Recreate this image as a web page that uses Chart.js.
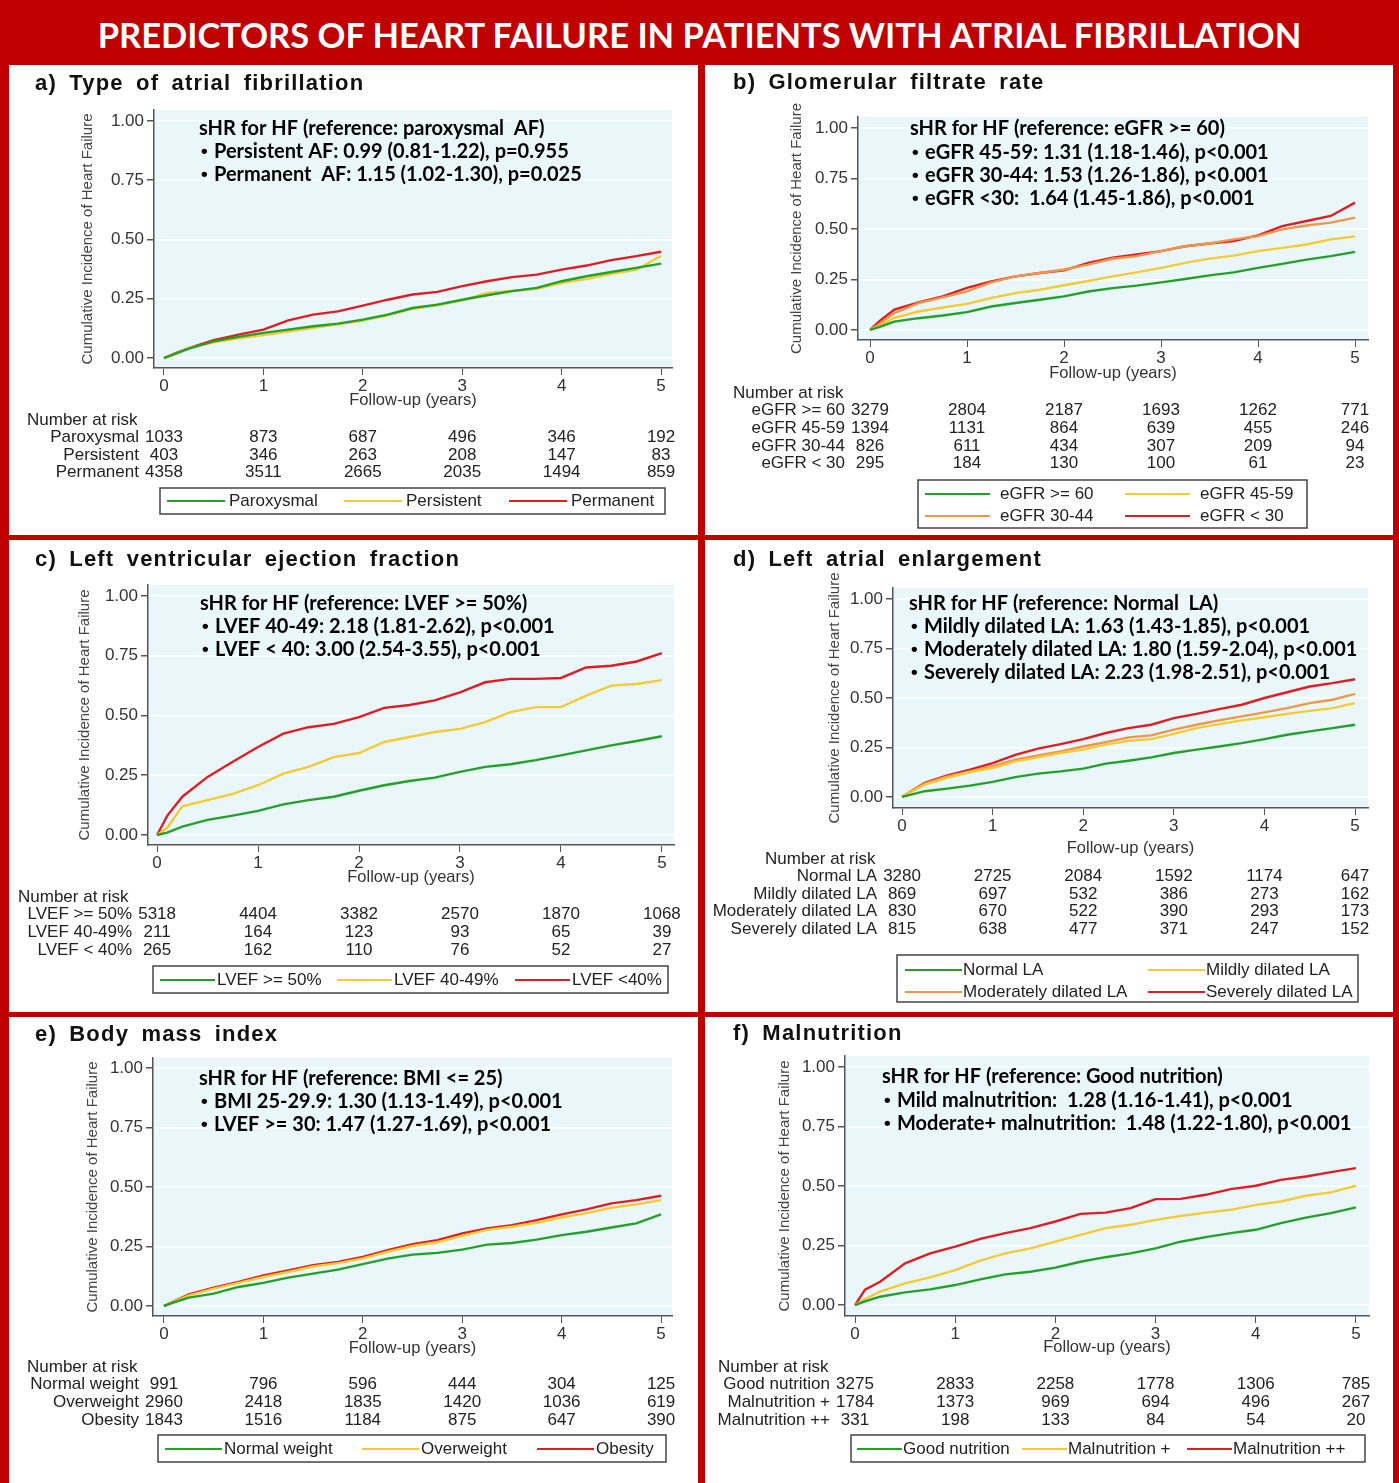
<!DOCTYPE html>
<html>
<head>
<meta charset="utf-8">
<script src="https://cdn.jsdelivr.net/npm/chart.js@4.4.1/dist/chart.umd.min.js"></script>
<style>
  html, body { margin: 0; padding: 0; }
  body { width: 1399px; height: 1483px; background: #c00000; position: relative; overflow: hidden; }
  #title { position: absolute; left: 0; top: 2px; width: 1399px; height: 62px; color: #fff;
           font: bold 34.5px Lato, sans-serif; text-align: center; line-height: 66px; }
  .panel { position: absolute; background: #fff; }
  .panel canvas { display: block; }
</style>
</head>
<body>
<div id="title">PREDICTORS OF HEART FAILURE IN PATIENTS WITH ATRIAL FIBRILLATION</div>
<div class="panel" style="left:9px;top:65px;width:689px;height:470px"><canvas id="panelA" width="689" height="470"></canvas></div>
<div class="panel" style="left:705px;top:65px;width:688px;height:470px"><canvas id="panelB" width="688" height="470"></canvas></div>
<div class="panel" style="left:9px;top:540px;width:689px;height:472px"><canvas id="panelC" width="689" height="472"></canvas></div>
<div class="panel" style="left:705px;top:540px;width:688px;height:472px"><canvas id="panelD" width="688" height="472"></canvas></div>
<div class="panel" style="left:9px;top:1017px;width:689px;height:466px"><canvas id="panelE" width="689" height="466"></canvas></div>
<div class="panel" style="left:705px;top:1017px;width:688px;height:466px"><canvas id="panelF" width="688" height="466"></canvas></div>

<script>
// shared axes
const followUp = [0, 0.1, 0.25, 0.5, 0.75, 1, 1.25, 1.5, 1.75, 2, 2.25, 2.5, 2.75, 3, 3.25, 3.5, 3.75, 4, 4.25, 4.5, 4.75, 5];
const yearTicks = [0, 1, 2, 3, 4, 5];
const incidenceTicks = [0, 0.25, 0.5, 0.75, 1];

// a) type of AF
const afGroups = ['Paroxysmal', 'Persistent', 'Permanent'];
const afParoxysmal = [0,0.015,0.04,0.07,0.089,0.106,0.12,0.134,0.145,0.162,0.183,0.211,0.225,0.246,0.265,0.282,0.296,0.324,0.345,0.363,0.38,0.398];
const afPersistent = [0,0.015,0.042,0.066,0.083,0.097,0.112,0.127,0.142,0.158,0.18,0.208,0.222,0.243,0.275,0.283,0.292,0.316,0.333,0.355,0.372,0.43];
const afPermanent = [0,0.018,0.042,0.075,0.099,0.12,0.159,0.183,0.197,0.221,0.246,0.268,0.279,0.303,0.324,0.341,0.352,0.373,0.39,0.413,0.43,0.448];
const afRisk = [[1033,873,687,496,346,192],[403,346,263,208,147,83],[4358,3511,2665,2035,1494,859]];
const afNote = ['sHR for HF (reference: paroxysmal  AF)', '\u2022 Persistent AF: 0.99 (0.81-1.22), p=0.955', '\u2022 Permanent  AF: 1.15 (1.02-1.30), p=0.025'];

// b) eGFR
const egfrGroups = ['eGFR >= 60', 'eGFR 45-59', 'eGFR 30-44', 'eGFR < 30'];
const egfr60 = [0,0.015,0.041,0.058,0.071,0.088,0.116,0.133,0.149,0.166,0.19,0.207,0.219,0.235,0.252,0.27,0.285,0.307,0.327,0.348,0.365,0.386];
const egfr4559 = [0,0.02,0.06,0.091,0.111,0.129,0.158,0.182,0.199,0.221,0.242,0.265,0.285,0.307,0.332,0.353,0.368,0.39,0.406,0.423,0.448,0.463];
const egfr3044 = [0,0.03,0.083,0.133,0.161,0.191,0.235,0.265,0.282,0.299,0.323,0.352,0.365,0.39,0.414,0.428,0.448,0.464,0.498,0.517,0.531,0.556];
const egfrBelow30 = [0,0.045,0.1,0.136,0.166,0.208,0.24,0.265,0.282,0.295,0.332,0.357,0.373,0.39,0.414,0.428,0.44,0.468,0.514,0.539,0.564,0.63];
const egfrRisk = [[3279,2804,2187,1693,1262,771],[1394,1131,864,639,455,246],[826,611,434,307,209,94],[295,184,130,100,61,23]];
const egfrNote = ['sHR for HF (reference: eGFR >= 60)', '\u2022 eGFR 45-59: 1.31 (1.18-1.46), p<0.001', '\u2022 eGFR 30-44: 1.53 (1.26-1.86), p<0.001', '\u2022 eGFR <30:  1.64 (1.45-1.86), p<0.001'];

// c) LVEF
const lvefGroups = ['LVEF >= 50%', 'LVEF 40-49%', 'LVEF < 40%'];
const lvefLegend = ['LVEF >= 50%', 'LVEF 40-49%', 'LVEF <40%'];
const lvef50 = [0,0.01,0.035,0.063,0.081,0.101,0.128,0.146,0.16,0.185,0.208,0.226,0.24,0.264,0.285,0.296,0.313,0.333,0.354,0.375,0.393,0.413];
const lvef4049 = [0,0.03,0.12,0.146,0.172,0.208,0.257,0.285,0.326,0.343,0.389,0.41,0.431,0.444,0.472,0.514,0.535,0.535,0.583,0.625,0.632,0.648];
const lvefBelow40 = [0,0.08,0.16,0.243,0.306,0.368,0.424,0.451,0.465,0.493,0.532,0.544,0.563,0.597,0.639,0.653,0.653,0.657,0.701,0.708,0.726,0.761];
const lvefRisk = [[5318,4404,3382,2570,1870,1068],[211,164,123,93,65,39],[265,162,110,76,52,27]];
const lvefNote = ['sHR for HF (reference: LVEF >= 50%)', '\u2022 LVEF 40-49: 2.18 (1.81-2.62), p<0.001', '\u2022 LVEF < 40: 3.00 (2.54-3.55), p<0.001'];

// d) left atrium
const laGroups = ['Normal LA', 'Mildly dilated LA', 'Moderately dilated LA', 'Severely dilated LA'];
const laNormal = [0,0.012,0.029,0.042,0.057,0.076,0.1,0.118,0.129,0.143,0.168,0.183,0.2,0.222,0.239,0.255,0.272,0.292,0.314,0.331,0.348,0.365];
const laMild = [0,0.025,0.062,0.096,0.126,0.146,0.18,0.2,0.222,0.239,0.264,0.284,0.292,0.319,0.348,0.368,0.387,0.403,0.42,0.435,0.449,0.474];
const laModerate = [0,0.027,0.067,0.104,0.129,0.155,0.188,0.21,0.23,0.255,0.277,0.301,0.311,0.34,0.365,0.387,0.407,0.427,0.449,0.474,0.491,0.521];
const laSevere = [0,0.028,0.071,0.109,0.138,0.171,0.213,0.244,0.267,0.292,0.323,0.348,0.365,0.398,0.42,0.444,0.466,0.5,0.529,0.558,0.575,0.595];
const laRisk = [[3280,2725,2084,1592,1174,647],[869,697,532,386,273,162],[830,670,522,390,293,173],[815,638,477,371,247,152]];
const laNote = ['sHR for HF (reference: Normal  LA)', '\u2022 Mildly dilated LA: 1.63 (1.43-1.85), p<0.001', '\u2022 Moderately dilated LA: 1.80 (1.59-2.04), p<0.001', '\u2022 Severely dilated LA: 2.23 (1.98-2.51), p<0.001'];

// e) BMI
const bmiGroups = ['Normal weight', 'Overweight', 'Obesity'];
const bmiNormal = [0,0.015,0.035,0.052,0.08,0.097,0.119,0.136,0.153,0.176,0.199,0.216,0.223,0.237,0.258,0.265,0.279,0.298,0.312,0.33,0.347,0.385];
const bmiOverweight = [0,0.018,0.045,0.073,0.097,0.122,0.143,0.166,0.18,0.2,0.228,0.252,0.268,0.295,0.32,0.333,0.35,0.372,0.39,0.413,0.427,0.445];
const bmiObesity = [0,0.02,0.049,0.077,0.101,0.129,0.15,0.171,0.185,0.206,0.235,0.26,0.277,0.305,0.326,0.34,0.361,0.385,0.406,0.431,0.445,0.463];
const bmiRisk = [[991,796,596,444,304,125],[2960,2418,1835,1420,1036,619],[1843,1516,1184,875,647,390]];
const bmiNote = ['sHR for HF (reference: BMI <= 25)', '\u2022 BMI 25-29.9: 1.30 (1.13-1.49), p<0.001', '\u2022 LVEF >= 30: 1.47 (1.27-1.69), p<0.001'];

// f) malnutrition
const nutGroups = ['Good nutrition', 'Malnutrition +', 'Malnutrition ++'];
const nutGood = [0,0.015,0.035,0.053,0.066,0.084,0.108,0.129,0.14,0.157,0.182,0.201,0.217,0.238,0.266,0.285,0.302,0.316,0.344,0.367,0.386,0.41];
const nutMild = [0,0.025,0.056,0.091,0.116,0.147,0.187,0.217,0.238,0.266,0.295,0.323,0.337,0.358,0.374,0.388,0.4,0.421,0.435,0.459,0.473,0.501];
const nutModerate = [0,0.065,0.098,0.175,0.217,0.245,0.278,0.302,0.323,0.351,0.383,0.388,0.407,0.445,0.446,0.463,0.487,0.501,0.526,0.54,0.558,0.575];
const nutRisk = [[3275,2833,2258,1778,1306,785],[1784,1373,969,694,496,267],[331,198,133,84,54,20]];
const nutNote = ['sHR for HF (reference: Good nutrition)', '\u2022 Mild malnutrition:  1.28 (1.16-1.41), p<0.001', '\u2022 Moderate+ malnutrition:  1.48 (1.22-1.80), p<0.001'];

const GREEN = '#23a02a', YELLOW = '#f4cb35', ORANGE = '#f0964a', RED = '#de1d25';
const PLOT_BG = '#e9f7fa';
const SANS = '"Liberation Sans", Arial, sans-serif';

const panelDecor = {
  id: 'panelDecor',
  beforeDraw(chart, args, o) {
    const { ctx, chartArea: a } = chart;
    ctx.save();
    ctx.fillStyle = PLOT_BG;
    ctx.fillRect(a.left, a.top, a.right - a.left, a.bottom - a.top);
    ctx.restore();
  },
  afterDraw(chart, args, o) {
    const ctx = chart.ctx, xs = chart.scales.x, L = o.layout;
    ctx.save();
    ctx.textBaseline = 'middle';
    ctx.textAlign = 'left';

    // panel heading
    ctx.fillStyle = '#111';
    ctx.font = 'bold 22px ' + SANS;
    ctx.letterSpacing = '1.2px';
    ctx.wordSpacing = '5px';
    ctx.fillText(o.title, L.titlePos[0], L.titlePos[1]);
    ctx.letterSpacing = '0px';
    ctx.wordSpacing = '0px';

    // sHR box text, bullets drawn in a smaller face
    ctx.fillStyle = '#000';
    o.note.forEach((line, i) => {
      const y = L.notePos[1] + i * L.noteStep;
      if (line.startsWith('\u2022')) {
        ctx.font = 'bold 19px ' + SANS;
        ctx.fillText('\u2022', L.notePos[0] + 2, y);
        ctx.font = 'bold 20px Lato, sans-serif';
        ctx.fillText(line.slice(2), L.notePos[0] + 15, y);
      } else {
        ctx.font = 'bold 20px Lato, sans-serif';
        ctx.fillText(line, L.notePos[0], y);
      }
    });

    // number at risk
    ctx.font = '17px ' + SANS;
    ctx.fillStyle = '#222';
    ctx.fillText('Number at risk', L.riskPos[0], L.riskPos[1]);
    const x0 = xs.getPixelForValue(yearTicks[0]);
    o.risk.forEach((row, r) => {
      const y = L.riskPos[1] + (r + 1) * L.riskStep;
      ctx.textAlign = 'right';
      ctx.fillText(o.groups[r], x0 - 25, y);
      ctx.textAlign = 'center';
      row.forEach((n, k) => ctx.fillText(String(n), xs.getPixelForValue(yearTicks[k]), y));
    });

    // legend
    const b = L.legendBox;
    ctx.strokeStyle = '#444';
    ctx.lineWidth = 1.5;
    ctx.strokeRect(b[0], b[1], b[2], b[3]);
    ctx.textAlign = 'left';
    o.legend.forEach((name, i) => {
      const [lx, ly] = L.legendItems[i];
      ctx.strokeStyle = o.colors[i];
      ctx.lineWidth = 2.2;
      ctx.beginPath();
      ctx.moveTo(lx, ly);
      ctx.lineTo(lx + L.legendLine, ly);
      ctx.stroke();
      ctx.fillStyle = '#222';
      ctx.fillText(name, lx + L.legendLine + L.legendGap, ly);
    });
    ctx.restore();
  }
};

function makePanel(id, p, L) {
  const yw = L.yTitleGap + 9;
  return new Chart(document.getElementById(id), {
    type: 'line',
    data: {
      datasets: p.series.map((s, i) => ({
        label: p.legend[i],
        data: followUp.map((t, k) => ({ x: t, y: s[k] })),
        borderColor: p.colors[i],
        borderWidth: 2.4,
        pointRadius: 0,
        tension: 0,
        fill: false
      }))
    },
    options: {
      responsive: false,
      animation: false,
      devicePixelRatio: 1,
      layout: { padding: { left: L.area[0] - yw, top: L.area[1], right: L.w - L.area[2], bottom: L.h - L.area[3] - L.xAxisH } },
      plugins: {
        legend: { display: false },
        tooltip: { enabled: false },
        panelDecor: { title: p.title, note: p.note, risk: p.risk, groups: p.groups, legend: p.legend, colors: p.colors, layout: L }
      },
      scales: {
        x: {
          type: 'linear', min: L.x[0], max: L.x[1],
          afterBuildTicks: s => { s.ticks = yearTicks.map(v => ({ value: v })); },
          afterFit: s => { s.height = L.xAxisH; },
          grid: { drawOnChartArea: false, tickLength: 7, tickColor: '#555' },
          border: { color: '#555', width: 1.5 },
          ticks: { font: { size: 17, family: SANS }, color: '#333', padding: 1, maxRotation: 0, autoSkip: false },
          title: { display: true, text: 'Follow-up (years)', font: { size: 16.5, family: SANS }, color: '#333', padding: 0 }
        },
        y: {
          min: L.y[0], max: L.y[1],
          afterBuildTicks: s => { s.ticks = incidenceTicks.map(v => ({ value: v })); },
          afterFit: s => { s.width = yw; },
          grid: { color: 'rgba(255,255,255,0.95)', lineWidth: 1.5, tickLength: 7, tickColor: '#555' },
          border: { color: '#555', width: 1.5 },
          ticks: { font: { size: 17, family: SANS }, color: '#333', padding: 3, callback: v => v.toFixed(2) },
          title: { display: true, text: 'Cumulative Incidence of Heart Failure', font: { size: 15, family: SANS }, color: '#444', padding: 0 }
        }
      }
    },
    plugins: [panelDecor]
  });
}

makePanel('panelA', {
  title: 'a) Type of atrial fibrillation', note: afNote, groups: afGroups, legend: afGroups, risk: afRisk,
  series: [afParoxysmal, afPersistent, afPermanent], colors: [GREEN, YELLOW, RED]
}, { w: 689, h: 470, area: [145, 45, 663, 303], x: [-0.10, 5.11], y: [-0.042, 1.046], yTitleGap: 66, xAxisH: 42,
     titlePos: [26, 19], notePos: [190, 64], noteStep: 23, riskPos: [18, 355], riskStep: 17.5,
     legendBox: [151, 423, 505, 26], legendItems: [[158, 436], [335, 436], [500, 436]], legendLine: 58, legendGap: 4 });

makePanel('panelB', {
  title: 'b) Glomerular filtrate rate', note: egfrNote, groups: egfrGroups, legend: egfrGroups, risk: egfrRisk,
  series: [egfr60, egfr4559, egfr3044, egfrBelow30], colors: [GREEN, YELLOW, ORANGE, RED]
}, { w: 688, h: 470, area: [153, 52, 663, 275], x: [-0.124, 5.134], y: [-0.05, 1.054], yTitleGap: 61, xAxisH: 43,
     titlePos: [28, 18], notePos: [205, 64], noteStep: 23.3, riskPos: [28, 328], riskStep: 17.7,
     legendBox: [213, 415, 389, 48], legendItems: [[220, 429], [420, 429], [220, 451], [420, 451]], legendLine: 65, legendGap: 10 });

makePanel('panelC', {
  title: 'c) Left ventricular ejection fraction', note: lvefNote, groups: lvefGroups, legend: lvefLegend, risk: lvefRisk,
  series: [lvef50, lvef4049, lvefBelow40], colors: [GREEN, YELLOW, RED]
}, { w: 689, h: 472, area: [139, 45, 665, 305], x: [-0.09, 5.12], y: [-0.042, 1.046], yTitleGap: 63, xAxisH: 42,
     titlePos: [26, 20], notePos: [191, 64], noteStep: 23, riskPos: [9, 357], riskStep: 17.7,
     legendBox: [144, 426, 515, 27], legendItems: [[151, 440], [328, 440], [506, 440]], legendLine: 55, legendGap: 2 });

makePanel('panelD', {
  title: 'd) Left atrial enlargement', note: laNote, groups: laGroups, legend: laGroups, risk: laRisk,
  series: [laNormal, laMild, laModerate, laSevere], colors: [GREEN, YELLOW, ORANGE, RED]
}, { w: 688, h: 472, area: [188, 48, 663, 268], x: [-0.1, 5.143], y: [-0.056, 1.056], yTitleGap: 58, xAxisH: 50,
     titlePos: [28, 20], notePos: [204, 64], noteStep: 23, riskPos: [60, 319], riskStep: 17.5,
     legendBox: [192, 415, 461, 47], legendItems: [[200, 430], [443, 430], [200, 452], [443, 452]], legendLine: 57, legendGap: 1 });

makePanel('panelE', {
  title: 'e) Body mass index', note: bmiNote, groups: bmiGroups, legend: bmiGroups, risk: bmiRisk,
  series: [bmiNormal, bmiOverweight, bmiObesity], colors: [GREEN, YELLOW, RED]
}, { w: 689, h: 466, area: [144, 41, 663, 299], x: [-0.11, 5.11], y: [-0.042, 1.042], yTitleGap: 60, xAxisH: 42,
     titlePos: [26, 18], notePos: [190, 62], noteStep: 23, riskPos: [18, 350], riskStep: 17.7,
     legendBox: [149, 418, 508, 27], legendItems: [[156, 432], [353, 432], [528, 432]], legendLine: 57, legendGap: 2 });

makePanel('panelF', {
  title: 'f) Malnutrition', note: nutNote, groups: nutGroups, legend: nutGroups, risk: nutRisk,
  series: [nutGood, nutMild, nutModerate], colors: [GREEN, YELLOW, RED]
}, { w: 688, h: 466, area: [140, 39, 664, 299], x: [-0.1, 5.13], y: [-0.046, 1.046], yTitleGap: 60, xAxisH: 41,
     titlePos: [28, 17], notePos: [177, 60], noteStep: 23.5, riskPos: [13, 350], riskStep: 17.7,
     legendBox: [146, 418, 514, 27], legendItems: [[152, 432], [317, 432], [482, 432]], legendLine: 45, legendGap: 1 });
</script>
</body>
</html>
